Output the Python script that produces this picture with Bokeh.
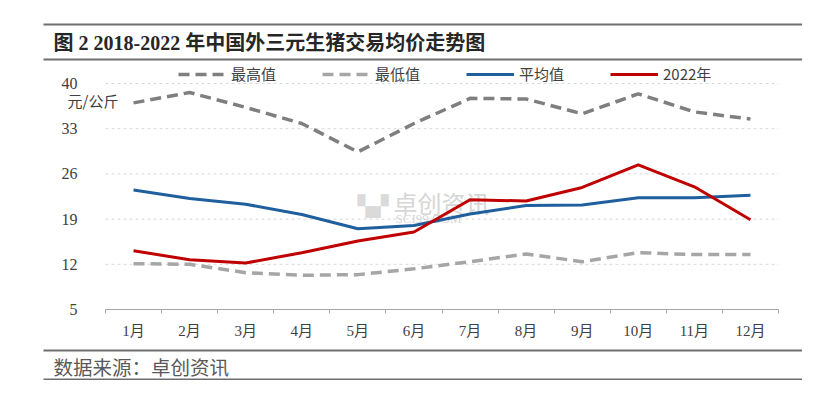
from bokeh.plotting import figure
from bokeh.layouts import column
from bokeh.models import (Range1d, FixedTicker, Legend, LegendItem, Label,
                          BoxAnnotation, ColumnDataSource)
from bokeh.embed import file_html
from bokeh.resources import INLINE

# ---- data ----
months = ["1月", "2月", "3月", "4月", "5月", "6月", "7月", "8月", "9月", "10月", "11月", "12月"]
max_vals = [37.0, 38.6, 36.3, 33.8, 29.4, 33.8, 37.7, 37.6, 35.3, 38.4, 35.6, 34.5]
min_vals = [12.1, 12.0, 10.7, 10.3, 10.4, 11.3, 12.4, 13.6, 12.4, 13.8, 13.5, 13.5]
avg_vals = [23.5, 22.2, 21.3, 19.7, 17.5, 18.0, 19.8, 21.1, 21.2, 22.3, 22.3, 22.7]
y2022_vals = [14.1, 12.7, 12.2, 13.8, 15.6, 17.0, 22.0, 21.8, 23.9, 27.4, 24.0, 18.9]
y_ticks = [5, 12, 19, 26, 33, 40]
series_names = ["最高值", "最低值", "平均值", "2022年"]
title_text = "图 2 2018-2022 年中国外三元生猪交易均价走势图"
source_text = "数据来源：卓创资讯"
unit_text = "元/公斤"

xs = list(range(1, len(months) + 1))
src = ColumnDataSource(dict(x=xs, mx=max_vals, mn=min_vals, av=avg_vals, y22=y2022_vals))

SERIF = "Liberation Serif, Noto Sans CJK SC"
SANS = "Noto Sans CJK SC"
TXT = "#404040"
RULE = "#6E6E6E"
W = 802


def blank(height):
    f = figure(width=W, height=height, output_backend="svg", toolbar_location=None,
               x_axis_location=None, y_axis_location=None, frame_align=False,
               x_range=Range1d(0, 1), y_range=Range1d(0, 1), min_border=0)
    f.outline_line_color = None
    f.grid.visible = False
    return f


def rule(f, top_from_bottom):
    f.add_layout(BoxAnnotation(left=43, right=W, top=top_from_bottom, bottom=top_from_bottom - 2,
                               left_units="screen", right_units="screen",
                               top_units="screen", bottom_units="screen",
                               fill_color=RULE, fill_alpha=1, line_color=None))


# ---- header (page y 0..62) ----
H1 = 62
head = blank(H1)
rule(head, H1 - 23)
rule(head, H1 - 58)
head.add_layout(Label(x=53, y=H1 - 42, x_units="screen", y_units="screen", text=title_text,
                      text_font=SERIF, text_font_style="bold", text_font_size="20px",
                      text_color="#262626", text_baseline="middle"))

# ---- main chart (page y 62..346) ----
H2 = 284
FL = 60                      # frame left (px); the month axis itself starts at 105
PX = (778 - 105) / len(months)
x_lo = xs[0] - 0.5
x_hi = xs[-1] + 0.5
p = figure(width=W, height=H2, output_backend="svg", toolbar_location=None, frame_align=False,
           x_range=Range1d(x_lo - (105 - FL) / PX, x_hi), y_range=Range1d(y_ticks[0], 43.25),
           min_border_left=FL, min_border_right=24, min_border_top=0, min_border_bottom=H2 - 247)
p.outline_line_color = None
p.grid.visible = False

xa = p.xaxis[0]
xa.bounds = (x_lo, x_hi)
xa.ticker = FixedTicker(ticks=xs, minor_ticks=[x_lo + i for i in range(len(months) + 1)])
xa.major_label_overrides = {x: m for x, m in zip(xs, months)}
xa.axis_line_color = "#A6A6A6"
xa.major_tick_out = 0
xa.major_tick_in = 0
xa.minor_tick_out = 4
xa.minor_tick_in = 0
xa.minor_tick_line_color = "#A6A6A6"
xa.major_label_standoff = 9
xa.major_label_text_font = SERIF
xa.major_label_text_font_size = "15px"
xa.major_label_text_color = TXT

ya = p.yaxis[0]
ya.ticker = FixedTicker(ticks=y_ticks)
ya.axis_line_color = None
ya.major_tick_line_color = None
ya.minor_tick_line_color = None
ya.major_label_standoff = -(83 - FL)   # labels end 22px left of the month axis
ya.major_label_text_font = SERIF
ya.major_label_text_font_size = "16px"
ya.major_label_text_color = TXT

# horizontal grid lines, spanning the month axis only
gy = y_ticks[1:]
p.segment(x0=[x_lo] * len(gy), x1=[x_hi] * len(gy), y0=gy, y1=gy,
          line_color="#D9D9D9", line_width=1, line_dash="3 3", level="underlay")

# watermark
for lab in (
    Label(x=333, y=107, x_units="screen", y_units="screen", text="卓创资讯",
          text_font=SANS, text_font_size="24px", text_color="#D6D6D6",
          text_baseline="middle", level="underlay"),
    Label(x=335, y=91, x_units="screen", y_units="screen", text="SCI99.COM",
          text_font="Liberation Serif", text_font_size="13px", text_color="#D6D6D6",
          text_baseline="middle", level="underlay"),
    Label(x=297, y=104, x_units="screen", y_units="screen", text="▚▞",
          text_font="DejaVu Sans", text_font_size="20px", text_color="#DADADA",
          text_baseline="middle", level="underlay"),
):
    p.add_layout(lab)

# unit label
p.add_layout(Label(x=67 - FL, y=309 - 100, x_units="screen", y_units="screen", text=unit_text,
                   text_font=SANS, text_font_size="15px", text_color=TXT,
                   text_baseline="middle"))

r_max = p.line("x", "mx", source=src, line_color="#7F7F7F", line_width=3.5, line_dash="11 6")
r_min = p.line("x", "mn", source=src, line_color="#A6A6A6", line_width=3.5, line_dash="11 6")
r_avg = p.line("x", "av", source=src, line_color="#1F5F9E", line_width=3)
r_22 = p.line("x", "y22", source=src, line_color="#C00000", line_width=3)

legend = Legend(items=[LegendItem(label=n, renderers=[r]) for n, r in
                       zip(series_names, [r_max, r_min, r_avg, r_22])],
                orientation="horizontal", location=(178 - FL, 225),
                glyph_width=48, glyph_height=18, label_width=91, label_height=18,
                label_standoff=5, spacing=0, padding=0, margin=0,
                border_line_color=None, background_fill_alpha=0,
                label_text_font=SANS, label_text_font_size="15px", label_text_color=TXT)
p.add_layout(legend)

# ---- footer (page y 346..380) ----
T3 = H1 + H2
H3 = 380 - T3
foot = blank(H3)
rule(foot, H3 - (349 - T3))
rule(foot, 2)
foot.add_layout(Label(x=53, y=H3 - (366 - T3), x_units="screen", y_units="screen", text=source_text,
                      text_font=SANS, text_font_size="19.5px", text_color="#595959",
                      text_baseline="middle"))

layout = column(head, p, foot, spacing=0)
open("out.html", "w").write(file_html(layout, INLINE))
